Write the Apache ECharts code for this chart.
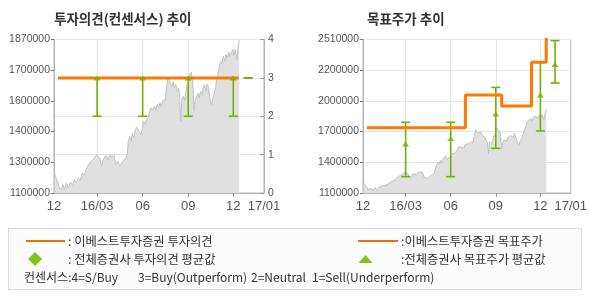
<!DOCTYPE html>
<html><head><meta charset="utf-8">
<script src="https://cdn.jsdelivr.net/npm/echarts@6/dist/echarts.min.js"></script>
<style>html,body{margin:0;padding:0;background:#fff}#c{width:590px;height:300px}</style>
</head><body><div id="c"></div>
<script>
// ---- data ----
const priceDates = [
'2015-12-06','2015-12-11','2015-12-15','2015-12-19','2015-12-23','2015-12-26','2015-12-30',
'2016-01-03','2016-01-07','2016-01-11','2016-01-15','2016-01-19','2016-01-23','2016-01-27','2016-01-31',
'2016-02-04','2016-02-09','2016-02-13','2016-02-17','2016-02-21','2016-02-25','2016-02-29',
'2016-03-02','2016-03-06','2016-03-10','2016-03-15','2016-03-19','2016-03-23','2016-03-27','2016-03-31',
'2016-04-04','2016-04-08','2016-04-12','2016-04-16','2016-04-20','2016-04-24','2016-04-28',
'2016-05-01','2016-05-03','2016-05-06','2016-05-09','2016-05-11','2016-05-14','2016-05-17','2016-05-20','2016-05-22','2016-05-25','2016-05-29',
'2016-06-01','2016-06-03','2016-06-06','2016-06-09','2016-06-12','2016-06-14','2016-06-17','2016-06-20','2016-06-22','2016-06-25','2016-06-28','2016-06-30',
'2016-07-03','2016-07-06','2016-07-08','2016-07-11','2016-07-14','2016-07-17','2016-07-19','2016-07-22','2016-07-25','2016-07-27','2016-07-30',
'2016-08-02','2016-08-04','2016-08-07','2016-08-10','2016-08-13','2016-08-15','2016-08-17','2016-08-19','2016-08-22','2016-08-25','2016-08-27','2016-08-30',
'2016-09-02','2016-09-04','2016-09-07','2016-09-10','2016-09-13','2016-09-15','2016-09-18','2016-09-21','2016-09-23','2016-09-26','2016-09-29',
'2016-10-01','2016-10-04','2016-10-07','2016-10-09','2016-10-12','2016-10-15','2016-10-18','2016-10-20','2016-10-23','2016-10-26','2016-10-28','2016-10-31',
'2016-11-03','2016-11-05','2016-11-08','2016-11-11','2016-11-14','2016-11-16','2016-11-19','2016-11-22','2016-11-24','2016-11-27','2016-11-30',
'2016-12-02','2016-12-05','2016-12-08','2016-12-11','2016-12-13'
];
const priceValues = [
1195000,1167000,1133000,1117000,1142000,1117000,1150000,
1125000,1155000,1142000,1167000,1150000,1175000,1162000,1200000,
1189000,1225000,1245000,1255000,1267000,1279000,1292000,
1300000,1275000,1234000,1275000,1289000,1267000,1292000,1279000,
1292000,1242000,1259000,1234000,1255000,1262000,1275000,
1292000,1359000,1384000,1362000,1401000,1376000,1418000,1430000,1440000,1409000,1392000,
1435000,1460000,1446000,1468000,1480000,1490000,1526000,1535000,1518000,1535000,1513000,1543000,
1526000,1551000,1535000,1563000,1560000,1568000,1627000,1680000,1663000,1652000,1635000,
1657000,1627000,1643000,1610000,1627000,1560000,1460000,1568000,1585000,1563000,1610000,1643000,
1660000,1693000,1707000,1660000,1510000,1560000,1585000,1602000,1577000,1610000,1593000,
1627000,1643000,1610000,1647000,1630000,1568000,1543000,1568000,1597000,1623000,1663000,1693000,
1740000,1761000,1747000,1786000,1761000,1794000,1777000,1807000,1786000,1802000,1819000,
1794000,1819000,1769000,1836000,1869000
];

// own firm opinion (3 = Buy)
const opinionLineDates = ['2015-12-13','2016-12-12'];
const opinionLineValues = [3, 3];
// consensus opinion range
const barDates = ['2016-03-01','2016-06-01','2016-09-01','2016-12-01','2016-12-31'];
const opinionLow  = [2, 2, 2, 2, 3];
const opinionHigh = [3, 3, 3, 3, 3];
const opinionMean = [3, 3, 3, 3, null];

// own firm target price (step)
const targetDates  = ['2015-12-13','2016-07-01','2016-09-13','2016-11-13','2016-12-13'];
const targetValues = [1700000, 2000000, 1900000, 2300000, 2600000];
// consensus target range
const targetLow  = [1250000, 1250000, 1510000, 1670000, 2110000];
const targetHigh = [1750000, 1750000, 2070000, 2300000, 2500000];
const targetMean = [1550000, 1600000, 1825000, 2000000, 2280000];

// axes
const xMinDate = '2015-12-05', xMaxDate = '2017-02-01';
const xTickDates  = ['2016-03-01','2016-06-01','2016-09-01','2016-12-01'];
const xLabelDates = ['2015-12-05','2016-03-01','2016-06-01','2016-09-01','2016-12-01','2017-02-01'];
const xLabelTexts = ['12','16/03','06','09','12','17/01'];
const leftPriceTicks  = [1100000,1254000,1408000,1562000,1716000,1870000];
const leftPriceLabels = ['1100000','1300000','1400000','1600000','1700000','1870000'];
const rightPriceTicks  = [1100000,1382000,1664000,1946000,2228000,2510000];
const rightPriceLabels = ['1100000','1400000','1700000','2000000','2200000','2510000'];

// ---- build ----
const T = s => Date.parse(s);
const ORANGE = '#ff7800', GREEN = '#74b000', GRIDC = '#e6e6e6', BORDER = '#b4b4b4', LBL = '#555';
const NUMFONT = '"Liberation Sans", Arial, sans-serif';
const KRFONT = '"Noto Sans CJK KR", sans-serif';

const priceData = priceDates.map((d, i) => [T(d), priceValues[i]]);
const lookup = (ticks, labels) => v => {
  for (let i = 0; i < ticks.length; i++) if (Math.abs(ticks[i] - v) < 2) return labels[i];
  return '';
};

function xAxisFor(gi) {
  return {
    type: 'value', gridIndex: gi, min: T(xMinDate), max: T(xMaxDate),
    axisLine: { show: true, lineStyle: { color: BORDER } },
    axisTick: { show: true, length: 4, lineStyle: { color: '#999' }, customValues: xTickDates.map(T) },
    axisLabel: { color: LBL, fontSize: 13, fontFamily: NUMFONT, margin: 7,
      customValues: xLabelDates.map(T), formatter: lookup(xLabelDates.map(T), xLabelTexts) },
    splitLine: { show: true, lineStyle: { color: GRIDC } }
  };
}

function errorBar(xi, yi, lows, highs) {
  return {
    type: 'custom', xAxisIndex: xi, yAxisIndex: yi, z: 4,
    data: barDates.map((d, i) => [T(d), lows[i], highs[i]]),
    encode: { x: 0, y: [1, 2] },
    renderItem: (params, api) => {
      const x = api.value(0);
      const pl = api.coord([x, api.value(1)]);
      const ph = api.coord([x, api.value(2)]);
      const w = 4.5, st = { stroke: GREEN, lineWidth: 1.6 };
      return { type: 'group', children: [
        { type: 'line', shape: { x1: pl[0], y1: pl[1], x2: ph[0], y2: ph[1] }, style: st },
        { type: 'line', shape: { x1: pl[0] - w, y1: pl[1], x2: pl[0] + w, y2: pl[1] }, style: st },
        { type: 'line', shape: { x1: ph[0] - w, y1: ph[1], x2: ph[0] + w, y2: ph[1] }, style: st }
      ]};
    }
  };
}

function meanSeries(xi, yi, means) {
  return {
    type: 'scatter', xAxisIndex: xi, yAxisIndex: yi, z: 6, symbol: 'triangle', symbolSize: [7, 5],
    itemStyle: { color: GREEN },
    data: barDates.map((d, i) => [T(d), means[i]]).filter(p => p[1] != null)
  };
}

const option = {
  animation: false,
  backgroundColor: '#fff',
  grid: [
    { left: 54, top: 39.5, width: 210, height: 153.5, show: true, borderColor: BORDER, borderWidth: 1, backgroundColor: 'transparent' },
    { left: 363, top: 39.5, width: 210, height: 153.5, show: true, borderColor: BORDER, borderWidth: 1, backgroundColor: 'transparent' }
  ],
  xAxis: [xAxisFor(0), xAxisFor(1)],
  yAxis: [
    { type: 'value', gridIndex: 0, position: 'left', min: 1100000, max: 1870000,
      axisLine: { show: true, lineStyle: { color: BORDER } },
      axisTick: { show: true, length: 3, lineStyle: { color: '#777' }, customValues: leftPriceTicks },
      axisLabel: { color: LBL, fontSize: 10.5, fontFamily: NUMFONT, margin: 4,
        customValues: leftPriceTicks, formatter: lookup(leftPriceTicks, leftPriceLabels) },
      splitLine: { show: false } },
    { type: 'value', gridIndex: 0, position: 'right', min: 0, max: 4, interval: 1,
      axisLine: { show: true, lineStyle: { color: BORDER } },
      axisTick: { show: true, inside: true, length: 4, lineStyle: { color: '#999' } },
      axisLabel: { color: LBL, fontSize: 10.5, fontFamily: NUMFONT, margin: 4 },
      splitLine: { show: true, lineStyle: { color: GRIDC } } },
    { type: 'value', gridIndex: 1, position: 'left', min: 1100000, max: 2510000,
      axisLine: { show: true, lineStyle: { color: BORDER } },
      axisTick: { show: true, length: 3, lineStyle: { color: '#777' }, customValues: rightPriceTicks },
      axisLabel: { color: LBL, fontSize: 10.5, fontFamily: NUMFONT, margin: 4,
        customValues: rightPriceTicks, formatter: lookup(rightPriceTicks, rightPriceLabels) },
      splitLine: { show: true, lineStyle: { color: GRIDC } } }
  ],
  series: [
    { type: 'line', xAxisIndex: 0, yAxisIndex: 0, data: priceData, symbol: 'none', z: 1,
      lineStyle: { color: '#c2c2c2', width: 1 }, areaStyle: { color: '#e0e0e0', opacity: 1, origin: 'start' } },
    { type: 'line', xAxisIndex: 1, yAxisIndex: 2, data: priceData, symbol: 'none', z: 1,
      lineStyle: { color: '#c2c2c2', width: 1 }, areaStyle: { color: '#e0e0e0', opacity: 1, origin: 'start' } },
    errorBar(0, 1, opinionLow, opinionHigh),
    { type: 'line', xAxisIndex: 0, yAxisIndex: 1, symbol: 'none', z: 5,
      data: opinionLineDates.map((d, i) => [T(d), opinionLineValues[i]]),
      lineStyle: { color: ORANGE, width: 3 } },
    meanSeries(0, 1, opinionMean),
    errorBar(1, 2, targetLow, targetHigh),
    { type: 'line', xAxisIndex: 1, yAxisIndex: 2, symbol: 'none', z: 5, step: 'end', clip: true,
      data: targetDates.map((d, i) => [T(d), targetValues[i]]),
      lineStyle: { color: ORANGE, width: 3 } },
    meanSeries(1, 2, targetMean)
  ],
  graphic: [
    { type: 'text', left: 54, top: 12, style: { text: '투자의견(컨센서스) 추이', font: 'bold 13.5px ' + KRFONT, fill: '#333' } },
    { type: 'text', left: 367, top: 12, style: { text: '목표주가 추이', font: 'bold 13.5px ' + KRFONT, fill: '#333' } },
    { type: 'rect', shape: { x: 8.5, y: 228.5, width: 573, height: 61 }, style: { fill: '#fcfcfc', stroke: '#dadada', lineWidth: 1 } },
    { type: 'line', shape: { x1: 26, y1: 241, x2: 65, y2: 241 }, style: { stroke: '#f07000', lineWidth: 2 } },
    { type: 'text', x: 68, y: 241, style: { text: ': 이베스트투자증권 투자의견', font: '12.3px ' + KRFONT, fill: '#333', verticalAlign: 'middle' } },
    { type: 'polygon', shape: { points: [[35, 252], [42, 259], [35, 266], [28, 259]] }, style: { fill: '#85c21a' } },
    { type: 'text', x: 68, y: 259, style: { text: ': 전체증권사 투자의견 평균값', font: '12.3px ' + KRFONT, fill: '#333', verticalAlign: 'middle' } },
    { type: 'line', shape: { x1: 358, y1: 241, x2: 398, y2: 241 }, style: { stroke: '#f07000', lineWidth: 2 } },
    { type: 'text', x: 401, y: 241, style: { text: ':이베스트투자증권 목표주가', font: '12.3px ' + KRFONT, fill: '#333', verticalAlign: 'middle' } },
    { type: 'polygon', shape: { points: [[365.5, 255], [372.5, 263], [358.5, 263]] }, style: { fill: '#85c21a' } },
    { type: 'text', x: 401, y: 259, style: { text: ':전체증권사 목표주가 평균값', font: '12.3px ' + KRFONT, fill: '#333', verticalAlign: 'middle' } },
    { type: 'text', x: 24, y: 277, style: { text: '컨센서스:4=S/Buy', font: '12px ' + KRFONT, fill: '#333', verticalAlign: 'middle' } },
    { type: 'text', x: 138, y: 277, style: { text: '3=Buy(Outperform)', font: '12px ' + KRFONT, fill: '#333', verticalAlign: 'middle' } },
    { type: 'text', x: 251, y: 277, style: { text: '2=Neutral', font: '12px ' + KRFONT, fill: '#333', verticalAlign: 'middle' } },
    { type: 'text', x: 312, y: 277, style: { text: '1=Sell(Underperform)', font: '12px ' + KRFONT, fill: '#333', verticalAlign: 'middle' } }
  ]
};
const chart = echarts.init(document.getElementById('c'), null, { renderer: 'canvas' });
chart.setOption(option);
</script></body></html>
